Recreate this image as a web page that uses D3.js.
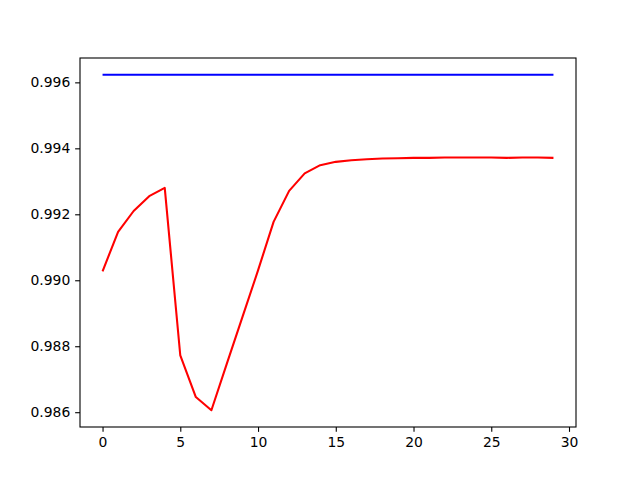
<!DOCTYPE html>
<html><head><meta charset="utf-8">
<script src="https://cdn.jsdelivr.net/npm/d3@7"></script>
<style>body{margin:0;background:#fff}svg{display:block}</style>
</head><body>
<svg id="c" width="640" height="480"></svg>
<script>
const xs = d3.range(0, 30);
const blueValues = Array(30).fill(0.99623);
const redValues = [0.99027, 0.99147, 0.99210, 0.99255, 0.99280, 0.98772, 0.98646, 0.98606,
  0.98748, 0.98889, 0.99030, 0.99177, 0.99271, 0.99324, 0.99349, 0.99359, 0.99364, 0.99367,
  0.99369, 0.99370, 0.99371, 0.99371, 0.99372, 0.99372, 0.99372, 0.99372, 0.99371, 0.99372,
  0.99372, 0.99371];
const xTicks = [0, 5, 10, 15, 20, 25, 30];
const yTicks = [0.986, 0.988, 0.990, 0.992, 0.994, 0.996];

const svg = d3.select("#c");
const L = 80, R = 576, T = 58, B = 427;
const all = blueValues.concat(redValues);
const ymin = d3.min(all), ymax = d3.max(all), yr = ymax - ymin;
const x = d3.scaleLinear().domain([-1.45, 30.45]).range([L, R]);
const y = d3.scaleLinear().domain([ymin - 0.05 * yr, ymax + 0.05 * yr]).range([B, T]);

const line = d3.line().x((d, i) => x(xs[i])).y(d => y(d));
svg.append("path").datum(blueValues).attr("d", line).attr("fill", "none").attr("stroke", "#0000ff").attr("stroke-width", 2.08);
svg.append("path").datum(redValues).attr("d", line).attr("fill", "none").attr("stroke", "#ff0000").attr("stroke-width", 2.08).attr("stroke-linejoin", "round");

const font = "DejaVu Sans";
const xa = svg.append("g").attr("transform", `translate(0,${B})`)
  .call(d3.axisBottom(x).tickValues(xTicks).tickFormat(d3.format("d")).tickSizeOuter(0).tickSize(4.86).tickPadding(4.86));
const ya = svg.append("g").attr("transform", `translate(${L},0)`)
  .call(d3.axisLeft(y).tickValues(yTicks).tickFormat(d3.format(".3f")).tickSizeOuter(0).tickSize(4.86).tickPadding(4.86));
[xa, ya].forEach(a => {
  a.select(".domain").remove();
  a.selectAll("line").attr("stroke", "#000").attr("stroke-width", 1.1);
  a.selectAll("text").attr("font-family", font).attr("font-size", 13.9).attr("fill", "#000");
});
svg.append("rect").attr("x", L).attr("y", T).attr("width", R - L).attr("height", B - T)
  .attr("fill", "none").attr("stroke", "#000").attr("stroke-width", 1.1);
</script>
</body></html>
